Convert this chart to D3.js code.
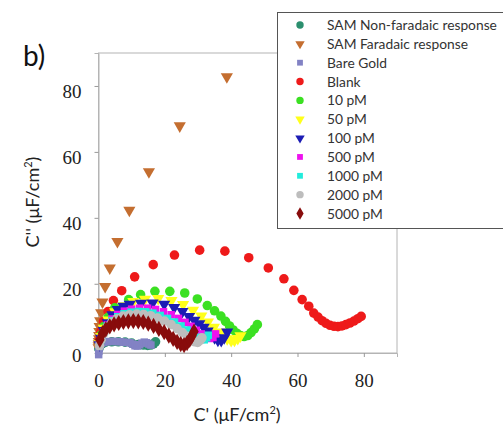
<!DOCTYPE html>
<html><head><meta charset="utf-8">
<script src="https://cdn.jsdelivr.net/npm/d3@7"></script>
<style>body{margin:0;background:#fff}svg{display:block}</style>
</head><body>
<svg id="c" width="503" height="430"></svg>
<script>
const xTicks = [0, 20, 40, 60, 80];
const yTicks = [0, 20, 40, 60, 80];
const seriesNames = ["SAM Non-faradaic response","SAM Faradaic response","Bare Gold","Blank","10 pM","50 pM","100 pM","500 pM","1000 pM","2000 pM","5000 pM"];
const samNonFaradaic = [[0.1,0.3],[0.4,1.2],[1,1.8],[2,2.2],[4,2.4],[6,2.4],[8,2.3],[10,2],[12,1.6],[13.5,1.4],[14.8,1.3],[15.8,1.4],[16.6,1.8],[17.2,2.4]];
const samFaradaic = [[38.7,82.8],[24.5,67.9],[15.2,54],[9.3,42.3],[5.7,32.8],[3.4,24.8],[2.0,19.2],[1.2,14.5],[0.8,11.2],[0.5,8.8],[0.35,7],[0.25,5.5],[0.2,4.3],[0.15,3.3],[0.1,2.5],[0.08,1.8],[0.05,1.2],[0.03,0.6]];
const bareGold = [[0.05,-1.5],[0.1,-0.5],[0.2,0.5],[0.4,1.3],[0.8,1.9],[1.5,2.2],[2.5,2.4],[3.5,2.5],[4.5,2.5],[5.5,2.5],[6.5,2.4],[7.5,2.3],[8.5,2.2],[9.5,2.1],[10.3,1.7],[11,1.2],[11.7,1.1],[12.4,1.5],[13.1,2],[13.8,2.3],[14.5,2.1],[15.2,1.7],[15.8,1.4]];
const blank = [[0.3,3],[0.7,5.5],[1.5,8.5],[2.9,11.6],[4.5,14.9],[7,17.9],[10.9,22.1],[16.5,25.8],[22.9,28.7],[30.5,30.2],[38.1,29.9],[45.3,27.9],[51.2,24.8],[55.9,21.5],[58.9,18.0],[61.4,15.2],[63.4,13.2],[64.9,11.1],[66.2,9.9],[67.4,8.8],[68.6,8.0],[69.8,7.4],[71.0,7.1],[72.2,7.0],[73.4,7.2],[74.6,7.6],[75.8,8.1],[77.0,8.7],[78.2,9.4],[79.2,10.1]];
const pM10 = [[0.3,2],[0.8,4.5],[1.6,7],[2.9,9.8],[4.9,12.7],[9.1,15.2],[12.7,16.7],[17.0,17.7],[21.5,17.7],[26.0,17.2],[29.8,15.4],[32.8,13.4],[35.0,11.8],[36.9,10.2],[38.3,8.6],[39.5,7.2],[40.6,6.0],[41.7,5.0],[42.8,4.3],[43.9,4.0],[45.0,4.3],[46.0,5.2],[47.0,6.3],[47.9,7.6]];
const pM50 = [[0.3,1.8],[0.8,4],[1.6,6.5],[3,9],[5,11.5],[7.5,13.3],[10.5,14.6],[14,15.3],[18,15.5],[22,14.9],[25.5,13.7],[28.5,12],[31,10.2],[33,8.4],[34.8,6.8],[36.3,5.4],[37.6,4.2],[38.8,3.3],[40,2.8],[41,2.9],[42,3.4],[42.8,4.2]];
const pM100 = [[0.3,1.5],[0.8,3.5],[1.6,5.8],[2.8,8.2],[4.2,10.6],[5.8,12.2],[7.5,13.2],[9.4,13.8],[12.8,14.1],[16.3,14.2],[19.8,13.8],[22.8,12.8],[25.3,11.6],[27.3,10.1],[28.9,8.9],[30.4,7.9],[31.7,6.8],[32.9,5.7],[34,4.6],[35,3.6],[36,2.9],[37,2.8],[37.9,3.6],[38.8,5.4]];
const pM500 = [[0.3,1.4],[0.8,3.2],[1.6,5.4],[2.7,7.5],[4.1,9.3],[5.8,10.7],[7.8,11.7],[10,12.3],[12.4,12.6],[14.8,12.6],[17.2,12.2],[19.6,11.5],[21.9,10.6],[24.1,9.5],[26.1,8.3],[27.9,7.1],[29.5,5.9],[31,4.8],[32.3,3.9],[33.5,3.4],[34.5,3.7],[35.3,4.8]];
const pM1000 = [[0.3,1.3],[0.8,3.1],[1.6,5.2],[2.7,7.2],[4.1,8.8],[5.8,10],[7.7,10.9],[9.8,11.4],[12,11.6],[14.2,11.5],[16.4,11.1],[18.6,10.4],[20.8,9.5],[22.9,8.4],[24.9,7.2],[26.7,6],[28.3,4.8],[29.7,3.8],[30.9,3.1],[31.9,3],[32.6,3.6],[33.1,4.4]];
const pM2000 = [[0.3,1.2],[0.8,3],[1.6,5],[2.7,6.9],[4,8.3],[5.6,9.4],[7.4,10.2],[9.4,10.6],[11.5,10.8],[13.6,10.7],[15.7,10.3],[17.8,9.6],[19.9,8.7],[21.9,7.6],[23.7,6.4],[25.3,5.2],[26.8,4.1],[28,3.1],[29,2.4],[29.9,2.2],[30.6,2.8],[31.2,3.6]];
const pM5000 = [[0.4,3],[1.2,5],[2.2,6.2],[3.4,7.1],[4.7,7.7],[6.1,8.1],[7.5,8.4],[9,8.6],[10.5,8.7],[12,8.6],[13.5,8.4],[15,7.9],[16.6,7.2],[18.2,6.3],[19.8,5.3],[21.2,4.3],[22.5,3.3],[23.7,2.4],[24.8,1.7],[25.8,1.4],[26.7,2],[27.5,3],[28.2,4.2],[28.8,5.5]];

const seriesData = [samNonFaradaic, samFaradaic, bareGold, blank, pM10, pM50, pM100, pM500, pM1000, pM2000, pM5000];
const colors = ["#2b8f6e","#c46e30","#8282c4","#ee1a1a","#3be022","#ffff1a","#1c1cb4","#ee12ee","#22ecdc","#bdbdbd","#880c0c"];
const shapes = ["circle","triDown","square","circle","circle","triDown","triDown","square","square","circle","diamond"];

const svg = d3.select("#c");
const x = d3.scaleLinear().domain([0, 90]).range([98.5, 397]);
const y = d3.scaleLinear().domain([-1, 90]).range([353, 53]);

function sym(shape, size) {
  const t = {circle: d3.symbolCircle, triDown: d3.symbolTriangle, square: d3.symbolSquare, diamond: d3.symbolDiamond}[shape];
  return d3.symbol().type(t).size(size)();
}
const sizes = {circle: 72, triDown: 64, square: 56, diamond: 76};

// frame
svg.append("rect").attr("x", x(0)).attr("y", y(90)).attr("width", x(90) - x(0)).attr("height", y(-1) - y(90))
  .attr("fill", "none").attr("stroke", "#b4b4b4").attr("stroke-width", 1);

// axes
const xa = svg.append("g").attr("transform", `translate(0,${y(-1)})`)
  .call(d3.axisBottom(x).tickValues(xTicks).tickSize(4).tickPadding(17));
const ya = svg.append("g").attr("transform", `translate(${x(0)},0)`)
  .call(d3.axisLeft(y).tickValues(yTicks).tickSize(4).tickPadding(13));
[xa, ya].forEach(a => {
  a.select(".domain").attr("stroke", "#b4b4b4");
  a.selectAll(".tick line").attr("stroke", "#999");
  a.selectAll("text").attr("font-family", "'Liberation Serif', serif").attr("font-size", 19).attr("fill", "#222");
});
ya.selectAll("text").attr("dy", "0.6em");

// points
const g = svg.append("g");
seriesData.forEach((data, i) => {
  const rot = shapes[i] === "triDown" ? " rotate(180)" : "";
  g.append("g").selectAll("path").data(data).join("path")
    .attr("d", sym(shapes[i], sizes[shapes[i]]))
    .attr("transform", d => `translate(${x(d[0])},${y(d[1])})${rot}`)
    .attr("fill", colors[i]);
});

// titles
svg.append("text").attr("x", 237).attr("y", 421).attr("text-anchor", "middle")
  .attr("font-family", "Lato, 'Open Sans', sans-serif").attr("font-size", 18).attr("fill", "#222")
  .html("C' (μF/cm<tspan dy='-7' font-size='11'>2</tspan><tspan dy='7'>)</tspan>");
svg.append("text").attr("transform", "translate(39,202) rotate(-90)").attr("text-anchor", "middle")
  .attr("font-family", "Lato, 'Open Sans', sans-serif").attr("font-size", 18).attr("fill", "#222")
  .html("C'' (μF/cm<tspan dy='-7' font-size='11'>2</tspan><tspan dy='7'>)</tspan>");
svg.append("text").attr("x", 23).attr("y", 66).attr("font-family", "Lato, 'Open Sans', sans-serif")
  .attr("font-size", 28).attr("fill", "#111").text("b)");

// legend
const lg = svg.append("g");
lg.append("rect").attr("x", 277.5).attr("y", 12.5).attr("width", 240).attr("height", 216)
  .attr("fill", "#fff").attr("stroke", "#555").attr("stroke-width", 1);
seriesNames.forEach((n, i) => {
  const cy = 25 + i * 18.85;
  const rot = shapes[i] === "triDown" ? " rotate(180)" : "";
  lg.append("path").attr("d", sym(shapes[i], sizes[shapes[i]] * 0.6))
    .attr("transform", `translate(300,${cy})${rot}`).attr("fill", colors[i]);
  lg.append("text").attr("x", 327).attr("y", cy + 5).attr("font-family", "Lato, 'Open Sans', sans-serif")
    .attr("font-size", 13.8).attr("fill", "#333").text(n);
});
</script>
</body></html>
